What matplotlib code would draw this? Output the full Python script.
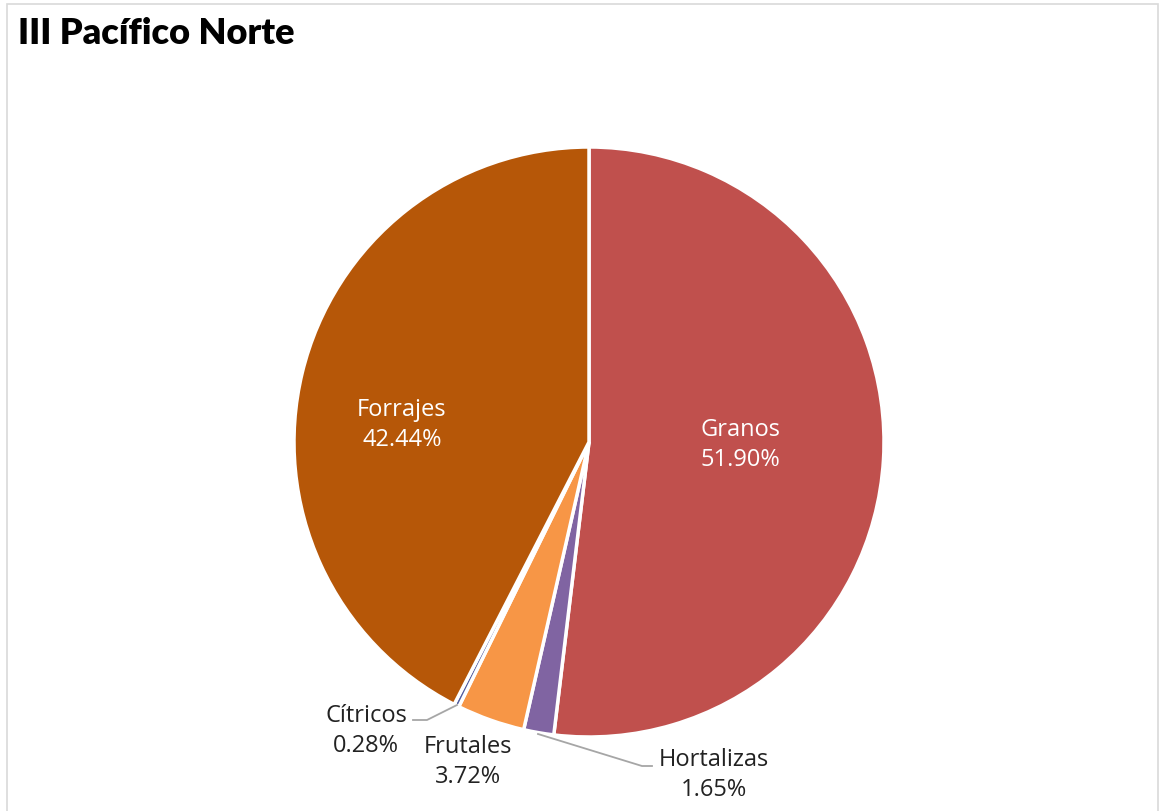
import matplotlib
matplotlib.use('Agg')
from matplotlib import pyplot as plt
from matplotlib.patches import Rectangle

plt.rcParams['font.family'] = ['Open Sans', 'DejaVu Sans']

TITLE = 'III Pacífico Norte'
categories = ['Granos', 'Hortalizas', 'Frutales', 'Cítricos', 'Forrajes']
shares = [51.90, 1.65, 3.72, 0.28, 42.44]
colors = ['#C0504D', '#8064A2', '#F79646', '#4F5A9E', '#B65708']

W, H = 1161, 812
CX, CY, R = 589, 443, 295


def to_data(px, py):
    return (px - CX) / R, (CY - py) / R


fig = plt.figure(figsize=(W / 100, H / 100), dpi=100)
fig.patches.append(Rectangle((7 / W, -0.01), (W - 10) / W, (H - 5) / H + 0.01,
                             transform=fig.transFigure, fill=False,
                             edgecolor='#D9D9D9', linewidth=1.2))
fig.text(18 / W, 1 - 33 / H, TITLE, fontsize=26, fontweight='heavy',
         family=['Lato', 'DejaVu Sans'], va='center', ha='left', color='black')

ax = fig.add_axes([(CX - R) / W, (H - CY - R) / H, 2 * R / W, 2 * R / H])
wedges, _ = ax.pie(shares, colors=colors, startangle=90, counterclock=False,
                   radius=1, wedgeprops=dict(edgecolor='white', linewidth=2.5))
ax.set_xlim(-1, 1)
ax.set_ylim(-1, 1)
ax.set_aspect('equal')
ax.axis('off')

label_pos = {
    'Granos': (740, 445),
    'Forrajes': (402, 425),
    'Cítricos': (366, 731),
    'Frutales': (468, 762),
    'Hortalizas': (714, 775),
}
inside = {'Granos', 'Forrajes'}
for cat, val in zip(categories, shares):
    x, y = to_data(*label_pos[cat])
    ax.text(x, y, f'{cat}\n{val:.2f}%', ha='center', va='center', fontsize=17,
            color='white' if cat in inside else '#222222', linespacing=1.3)

# leader lines
leaders = {
    'Cítricos': [(457, 706), (427, 721), (413, 721)],
    'Hortalizas': [(538, 735), (642, 767), (652, 767)],
}
for cat, pts in leaders.items():
    xs, ys = zip(*[to_data(px, py) for px, py in pts])
    ax.plot(xs, ys, color='#A6A6A6', linewidth=1.3, clip_on=False)

fig.savefig('out.png', dpi=100)
